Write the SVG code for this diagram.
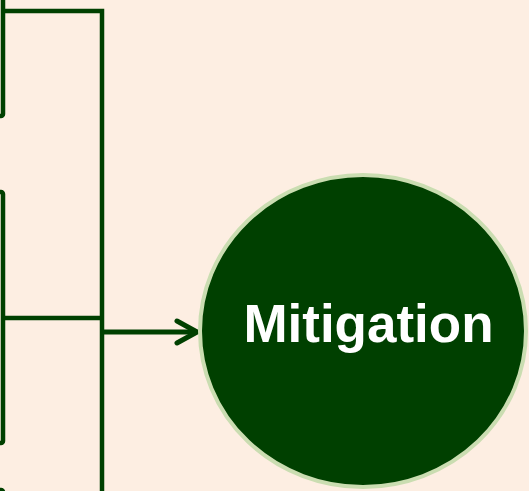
<svg xmlns="http://www.w3.org/2000/svg" width="529" height="491" viewBox="0 0 529 491">
  <style>
    .box { fill: none; stroke: #004000; stroke-width: 4.5; }
    .wire { fill: none; stroke: #004000; stroke-width: 4.5; stroke-linejoin: miter; }
    .arrow { fill: none; stroke: #004000; stroke-width: 5; }
    .label { font-family: "Liberation Sans", Arial, sans-serif; font-weight: bold; font-size: 53px; fill: #ffffff; }
  </style>
  <defs>
    <marker id="chevron" viewBox="0 0 26 28" refX="23" refY="14" markerWidth="26" markerHeight="28" markerUnits="userSpaceOnUse" orient="auto">
      <path d="M3,3 L23,14 L3,25" fill="none" stroke="#004000" stroke-width="5" stroke-linecap="round" stroke-linejoin="round"/>
    </marker>
  </defs>
  <rect width="529" height="491" fill="#FDEEE2"/>

  <!-- source boxes, cut off at the left edge -->
  <g id="source-1">
    <rect class="box" x="-60" y="-40" width="63" height="156" rx="2"/>
  </g>
  <g id="source-2">
    <rect class="box" x="-60" y="192" width="63" height="251" rx="2"/>
  </g>
  <g id="source-3">
    <rect class="box" x="-60" y="490" width="63" height="100" rx="2"/>
  </g>

  <!-- connectors -->
  <g id="connectors">
    <path class="wire" d="M3,11 H102 V491"/>
    <path class="wire" d="M3,318 H102"/>
    <path class="arrow" d="M102,332 H197" marker-end="url(#chevron)"/>
  </g>

  <!-- target node -->
  <g id="mitigation">
    <ellipse cx="363" cy="331" rx="163" ry="156" fill="#004000" stroke="#CADDB1" stroke-width="4"/>
    <text class="label" x="368.5" y="342" text-anchor="middle">Mitigation</text>
  </g>
</svg>
